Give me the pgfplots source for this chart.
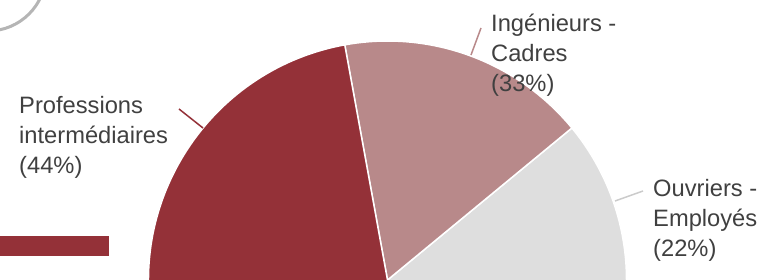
\documentclass[border=0pt]{standalone}
\usepackage{pgfplots}
\pgfplotsset{compat=1.18}
\usepackage{fontspec}
\setmainfont{Liberation Sans}
\definecolor{cProf}{HTML}{943138}
\definecolor{cIng}{HTML}{B8898A}
\definecolor{cOuv}{HTML}{DEDEDE}
\definecolor{cText}{HTML}{404040}
\definecolor{cRing}{HTML}{B5B5B5}
\begin{document}
\begin{tikzpicture}
\begin{axis}[
  hide axis, scale only axis,
  width=763pt, height=280pt,
  xmin=0, xmax=763, ymin=0, ymax=280,
  clip=true,
]
% pie: centre (387.5,0), radius 239; slice boundaries in degrees
% Ouvriers - Employes: -60 .. 39.5 ; Ingenieurs - Cadres: 39.5 .. 100.3 ; Professions: 100.3 .. 300
\fill[cOuv, draw=white, line width=1.5pt] (axis cs:387.5,0) -- ++(-60:239pt) arc[start angle=-60, end angle=39.5, radius=239pt] -- cycle;
\fill[cIng, draw=white, line width=1.5pt] (axis cs:387.5,0) -- ++(39.5:239pt) arc[start angle=39.5, end angle=100.3, radius=239pt] -- cycle;
\fill[cProf, draw=white, line width=1.5pt] (axis cs:387.5,0) -- ++(100.3:239pt) arc[start angle=100.3, end angle=300, radius=239pt] -- cycle;
% ring top-left
\draw[cRing, line width=3pt] (axis cs:-12,307) circle[radius=58pt];
% legend swatch
\fill[cProf] (axis cs:0,24) rectangle (axis cs:109,44);
% leader lines
\draw[cProf, line width=1.5pt] (axis cs:179,171) -- (axis cs:203,152);
\draw[cIng, line width=1.5pt] (axis cs:481,252) -- (axis cs:471,225);
\draw[cOuv!80!gray, line width=1.5pt] (axis cs:615,79) -- (axis cs:643,89);
% labels
\begin{scope}[every node/.style={anchor=base west, inner sep=0pt, text=cText, font=\fontsize{23.7}{30}\selectfont}]
\node at (axis cs:19,166) {Professions};
\node at (axis cs:19,136) {intermédiaires};
\node at (axis cs:19,106) {(44\%)};
\node at (axis cs:491,248.5) {Ingénieurs -};
\node at (axis cs:491,218.5) {Cadres};
\node at (axis cs:491,188.5) {(33\%)};
\node at (axis cs:653,83.5) {Ouvriers -};
\node at (axis cs:653,53.5) {Employés};
\node at (axis cs:653,23.5) {(22\%)};
\end{scope}
\end{axis}
\pgfresetboundingbox
\path[use as bounding box] (current axis.south west) rectangle (current axis.north east);
\end{tikzpicture}
\end{document}
